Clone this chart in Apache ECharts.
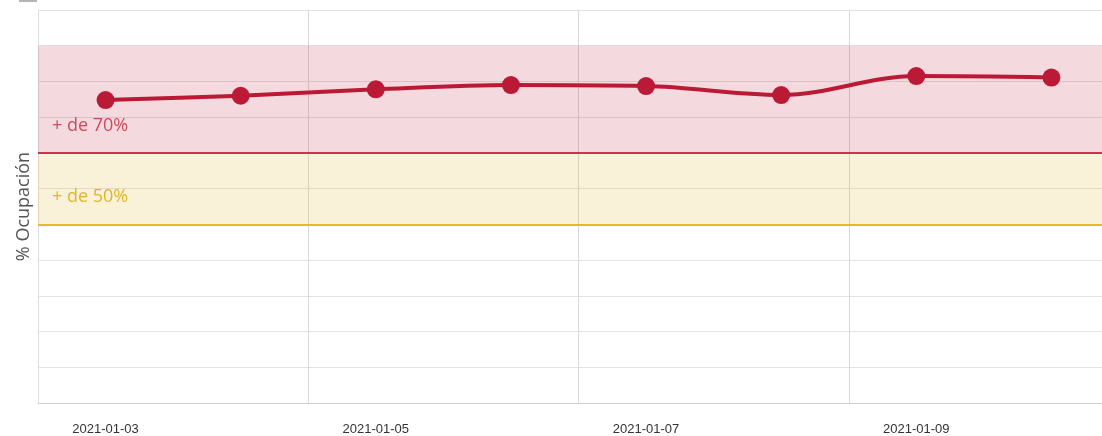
<!DOCTYPE html>
<html>
<head>
<meta charset="utf-8">
<script src="https://cdn.jsdelivr.net/npm/echarts@6/dist/echarts.min.js"></script>
<style>
  html, body { margin: 0; padding: 0; background: #fff; overflow: hidden; width: 1102px; height: 436px; }
  /* plot area runs past the right edge of the window */
  #chart { width: 1119px; height: 436px; }
</style>
</head>
<body>
<div id="chart"></div>
<script>
// Daily occupancy (%) per date
const categories = ['2021-01-03', '2021-01-04', '2021-01-05', '2021-01-06',
                    '2021-01-07', '2021-01-08', '2021-01-09', '2021-01-10'];
const occupancy = [84.8, 86.0, 87.8, 89.0, 88.7, 86.2, 91.5, 91.1];

// Threshold levels
const highLevel = 70;
const mediumLevel = 50;
const bandTop = 100;
const highLabel = '+ de 70%';
const mediumLabel = '+ de 50%';
const yAxisName = '% Ocupación';

const chart = echarts.init(document.getElementById('chart'));

chart.setOption({
  animation: false,
  grid: { left: 38, right: 0, top: 10, bottom: 33, containLabel: false },
  graphic: [
    { type: 'rect', left: 19, top: 0, shape: { width: 18, height: 2 }, style: { fill: '#b4b4b4' } }
  ],
  xAxis: {
    type: 'category',
    data: categories,
    boundaryGap: true,
    axisLine: { show: true, lineStyle: { color: '#cfcfcf', width: 1 } },
    axisTick: { show: false },
    axisLabel: {
      interval: 1,
      margin: 20,
      color: '#333',
      fontFamily: 'Liberation Sans, Arial, sans-serif',
      fontSize: 13
    },
    splitLine: { show: true, interval: 1, lineStyle: { color: '#d9d9d9', width: 1 } }
  },
  yAxis: {
    type: 'value',
    min: 0,
    max: 110,
    interval: 10,
    name: yAxisName,
    nameLocation: 'middle',
    nameGap: 5,
    nameTextStyle: { color: '#555', fontFamily: 'Open Sans', fontSize: 18 },
    axisLine: { show: true, lineStyle: { color: '#dedede' } },
    axisTick: { show: false },
    axisLabel: { show: false },
    splitLine: { show: true, lineStyle: { color: '#e3e3e3', width: 1 } }
  },
  series: [
    {
      type: 'line',
      data: occupancy,
      smooth: 0.35,
      symbol: 'circle',
      symbolSize: 18,
      z: 5,
      lineStyle: { color: '#bb1a36', width: 4 },
      itemStyle: { color: '#bb1a36' },
      markArea: {
        silent: true,
        data: [
          [
            {
              yAxis: highLevel,
              itemStyle: { color: 'rgba(185,25,55,0.16)' },
              label: {
                show: true,
                formatter: highLabel,
                position: 'insideBottomLeft',
                distance: 0,
                offset: [14, -18],
                color: '#cc4a5f',
                fontFamily: 'Open Sans',
                fontSize: 18
              }
            },
            { yAxis: bandTop }
          ],
          [
            {
              yAxis: mediumLevel,
              itemStyle: { color: 'rgba(215,175,20,0.16)' },
              label: {
                show: true,
                formatter: mediumLabel,
                position: 'insideBottomLeft',
                distance: 0,
                offset: [14, -18],
                color: '#dfb726',
                fontFamily: 'Open Sans',
                fontSize: 18
              }
            },
            { yAxis: highLevel }
          ]
        ]
      },
      markLine: {
        silent: true,
        symbol: 'none',
        label: { show: false },
        data: [
          { yAxis: highLevel, lineStyle: { color: '#c8334e', width: 2, type: 'solid' } },
          { yAxis: mediumLevel, lineStyle: { color: '#e2bb2a', width: 2, type: 'solid' } }
        ]
      }
    }
  ]
});
</script>
</body>
</html>
